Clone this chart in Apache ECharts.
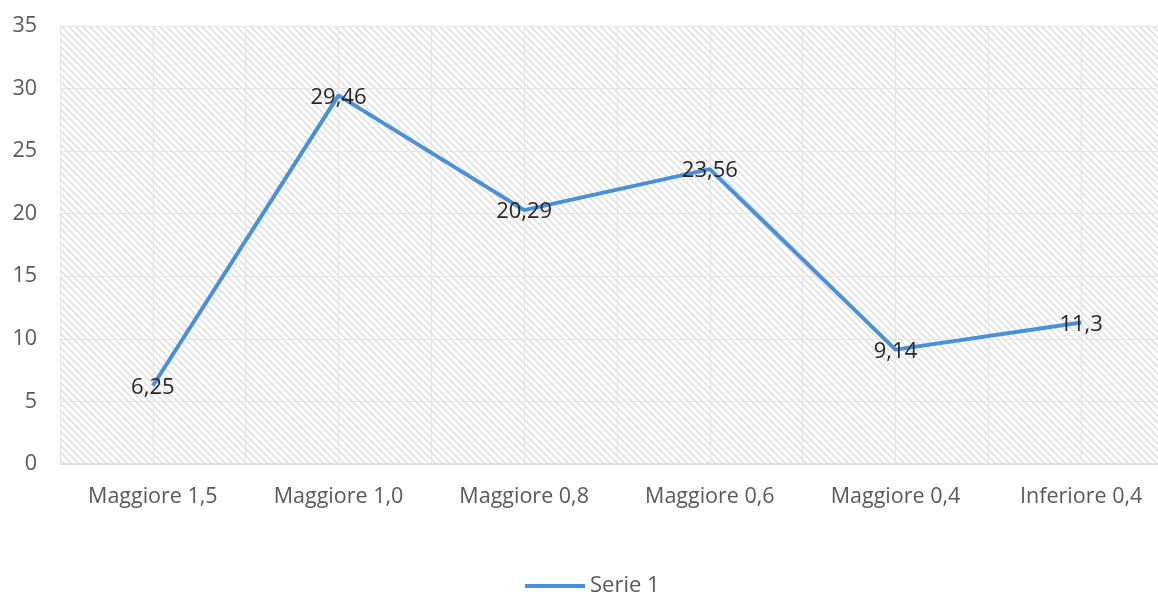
<!DOCTYPE html>
<html>
<head>
<meta charset="utf-8">
<script src="https://cdn.jsdelivr.net/npm/echarts@6/dist/echarts.min.js"></script>
<style>
  html, body { margin: 0; padding: 0; background: #ffffff; }
  #chart { width: 1158px; height: 594px; }
</style>
</head>
<body>
<div id="chart"></div>
<script>
// Categories, values and axis ticks
const categories = ['Maggiore 1,5', 'Maggiore 1,0', 'Maggiore 0,8', 'Maggiore 0,6', 'Maggiore 0,4', 'Inferiore 0,4'];
const serie1 = [6.25, 29.46, 20.29, 23.56, 9.14, 11.3];
const seriesName = 'Serie 1';
const yTicks = { min: 0, max: 35, interval: 5 };

// Diagonal hatch tile for the plot area background
function hatchTile() {
  const s = 7;
  const c = document.createElement('canvas');
  c.width = s; c.height = s;
  const g = c.getContext('2d');
  g.fillStyle = '#ffffff';
  g.fillRect(0, 0, s, s);
  g.strokeStyle = '#dedede';
  g.lineWidth = 1.5;
  [-s, 0, s].forEach(function (o) {
    g.beginPath();
    g.moveTo(o - 1, -1);
    g.lineTo(o + s + 1, s + 1);
    g.stroke();
  });
  return c;
}

const fontFamily = '"Open Sans", "Noto Sans", sans-serif';
const chart = echarts.init(document.getElementById('chart'), null, { renderer: 'canvas' });

chart.setOption({
  animation: false,
  textStyle: { fontFamily: fontFamily },
  grid: {
    left: 60, top: 26, width: 1114, height: 438,
    outerBoundsMode: 'none',
    containLabel: false,
    show: true,
    borderWidth: 0,
    backgroundColor: { image: hatchTile(), repeat: 'repeat' }
  },
  legend: {
    data: [seriesName],
    left: 520,
    top: 570,
    icon: 'rect',
    itemWidth: 60,
    itemHeight: 4,
    itemGap: 6,
    textStyle: { fontSize: 22, color: '#595959', fontFamily: fontFamily }
  },
  xAxis: [
    {
      type: 'category',
      data: categories,
      boundaryGap: true,
      axisLine: { show: true, lineStyle: { color: '#d9d9d9', width: 1.5 } },
      axisTick: { show: false },
      splitLine: { show: false },
      axisLabel: { color: '#595959', fontSize: 21.5, margin: 22, interval: 0 }
    },
    {
      // half-category guide lines (boundaries and centres)
      type: 'value',
      min: 0, max: 12, interval: 1,
      position: 'top',
      show: true,
      axisLine: { show: false },
      axisTick: { show: false },
      axisLabel: { show: false },
      splitLine: { show: true, lineStyle: { color: '#e6e6e6', width: 1.2 } }
    }
  ],
  yAxis: {
    type: 'value',
    min: yTicks.min, max: yTicks.max, interval: yTicks.interval,
    axisLine: { show: false },
    axisTick: { show: false },
    axisLabel: { color: '#595959', fontSize: 21.5, margin: 23 },
    splitLine: { show: true, lineStyle: { color: '#e6e6e6', width: 1.2 } }
  },
  series: [{
    name: seriesName,
    type: 'line',
    xAxisIndex: 0,
    data: serie1,
    symbol: 'circle',
    symbolSize: 0.1,
    showSymbol: true,
    itemStyle: { color: '#4a90d9' },
    lineStyle: { color: '#4a90d9', width: 4 },
    label: {
      show: true,
      position: 'inside',
      offset: [0, 2],
      color: '#262626',
      fontSize: 22,
      fontFamily: fontFamily,
      formatter: function (p) { return String(p.value).replace('.', ','); }
    }
  }]
});
</script>
</body>
</html>
